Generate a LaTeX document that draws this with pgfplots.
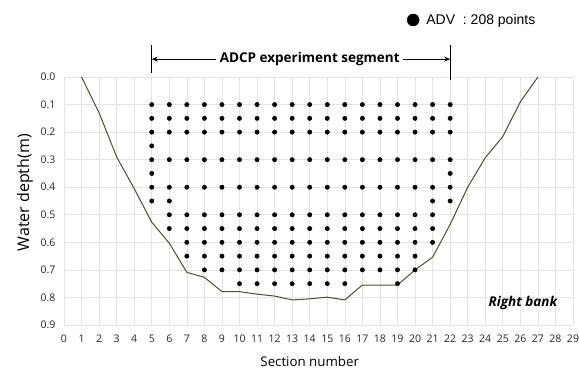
\documentclass[border=0pt]{standalone}
\usepackage{fontspec}
\setmainfont{Open Sans}
\newfontfamily\arialf{Liberation Sans}
\usepackage{pgfplots}
\pgfplotsset{compat=1.18}
\usetikzlibrary{arrows.meta}
\definecolor{bedline}{RGB}{78,78,48}
\definecolor{gridc}{RGB}{228,228,228}
\begin{document}
\begin{tikzpicture}
\useasboundingbox (-64pt,-48pt) rectangle (515pt,325pt);
\begin{axis}[
  at={(0,0)}, anchor=south west,
  scale only axis, width=509pt, height=248pt,
  xmin=0, xmax=29, ymin=0, ymax=0.9, y dir=reverse,
  xtick={0,...,29},
  ytick={0,0.1,0.2,0.3,0.4,0.5,0.6,0.7,0.8,0.9},
  yticklabel={\pgfmathprintnumber[fixed,fixed zerofill,precision=1]{\tick}},
  /pgf/number format/assume math mode=true,
  grid=major, major grid style={gridc, line width=0.6pt},
  axis line style={draw=none}, major tick length=0pt,
  tick label style={font=\fontsize{10.5}{12}\selectfont, text=black!85},
  xticklabel style={yshift=-6pt},
  yticklabel style={xshift=-5pt},
  clip=false,
  legend style={at={(axis cs:19.53,-0.207)}, anchor=west, draw=none, fill=none,
    inner sep=0pt, font=\arialf\fontsize{14}{16}\selectfont,
    /tikz/every odd column/.append style={column sep=5pt}},
  legend cell align=left,
  legend image code/.code={\fill[black] (0pt,0pt) circle (6pt);},
]
\addplot[only marks, mark=*, mark size=2.2pt, black] table {
x y
5 0.10
5 0.15
5 0.20
5 0.25
5 0.30
5 0.35
5 0.40
5 0.45
6 0.10
6 0.15
6 0.20
6 0.30
6 0.40
6 0.45
6 0.50
6 0.55
7 0.10
7 0.15
7 0.20
7 0.30
7 0.40
7 0.50
7 0.55
7 0.60
7 0.65
8 0.10
8 0.15
8 0.20
8 0.30
8 0.40
8 0.50
8 0.55
8 0.60
8 0.65
8 0.70
9 0.10
9 0.15
9 0.20
9 0.30
9 0.40
9 0.50
9 0.55
9 0.60
9 0.65
9 0.70
10 0.10
10 0.15
10 0.20
10 0.30
10 0.40
10 0.50
10 0.55
10 0.60
10 0.65
10 0.70
10 0.75
11 0.10
11 0.15
11 0.20
11 0.30
11 0.40
11 0.50
11 0.55
11 0.60
11 0.65
11 0.70
11 0.75
12 0.10
12 0.15
12 0.20
12 0.30
12 0.40
12 0.50
12 0.55
12 0.60
12 0.65
12 0.70
12 0.75
13 0.10
13 0.15
13 0.20
13 0.30
13 0.40
13 0.50
13 0.55
13 0.60
13 0.65
13 0.70
13 0.75
14 0.10
14 0.15
14 0.20
14 0.30
14 0.40
14 0.50
14 0.55
14 0.60
14 0.65
14 0.70
14 0.75
15 0.10
15 0.15
15 0.20
15 0.30
15 0.40
15 0.50
15 0.55
15 0.60
15 0.65
15 0.70
15 0.75
16 0.10
16 0.15
16 0.20
16 0.30
16 0.40
16 0.50
16 0.55
16 0.60
16 0.65
16 0.70
16 0.75
17 0.10
17 0.15
17 0.20
17 0.30
17 0.40
17 0.50
17 0.55
17 0.60
17 0.65
17 0.70
18 0.10
18 0.15
18 0.20
18 0.30
18 0.40
18 0.50
18 0.55
18 0.60
18 0.65
18 0.70
19 0.10
19 0.15
19 0.20
19 0.30
19 0.40
19 0.50
19 0.55
19 0.60
19 0.65
19 0.70
19 0.75
20 0.10
20 0.15
20 0.20
20 0.30
20 0.40
20 0.50
20 0.55
20 0.60
20 0.65
20 0.70
21 0.10
21 0.15
21 0.20
21 0.30
21 0.40
21 0.45
21 0.50
21 0.55
21 0.60
22 0.10
22 0.15
22 0.20
22 0.30
22 0.35
22 0.40
22 0.45
};
\addlegendentry{ADV\ \ : 208 points}
\addplot[bedline, line width=1pt, forget plot] table {
x y
1 0.000
2 0.130
3 0.290
4 0.405
5 0.527
6 0.603
7 0.709
8 0.727
9 0.779
10 0.779
11 0.788
12 0.795
13 0.809
14 0.805
15 0.799
16 0.809
17 0.755
18 0.755
19 0.755
20 0.700
21 0.654
22 0.535
23 0.400
24 0.293
25 0.216
26 0.090
27 0.000
};
\node[font=\bfseries\fontsize{13.5}{15}\selectfont] (t) at (axis cs:14,-0.065) {ADCP experiment segment};
\draw[line width=0.9pt, -{Stealth[length=6pt,width=5pt]}] (t.east) -- (axis cs:22,-0.065);
\draw[line width=0.9pt, -{Stealth[length=6pt,width=5pt]}] (t.west) -- (axis cs:5,-0.065);
\draw[line width=1.2pt] (axis cs:5,-0.116) -- (axis cs:5,-0.0145);
\draw[line width=1.2pt] (axis cs:22,-0.116) -- (axis cs:22,0.011);
\node[font=\bfseries\itshape\fontsize{13.5}{15}\selectfont] at (axis cs:26.15,0.82) {Right bank};
\node[font=\fontsize{13.3}{15}\selectfont] at (axis cs:14,1.034) {Section number};
\node[rotate=90, font=\fontsize{16}{18}\selectfont] at (axis cs:-2.22,0.42) {Water depth(m)};
\end{axis}
\end{tikzpicture}
\end{document}
